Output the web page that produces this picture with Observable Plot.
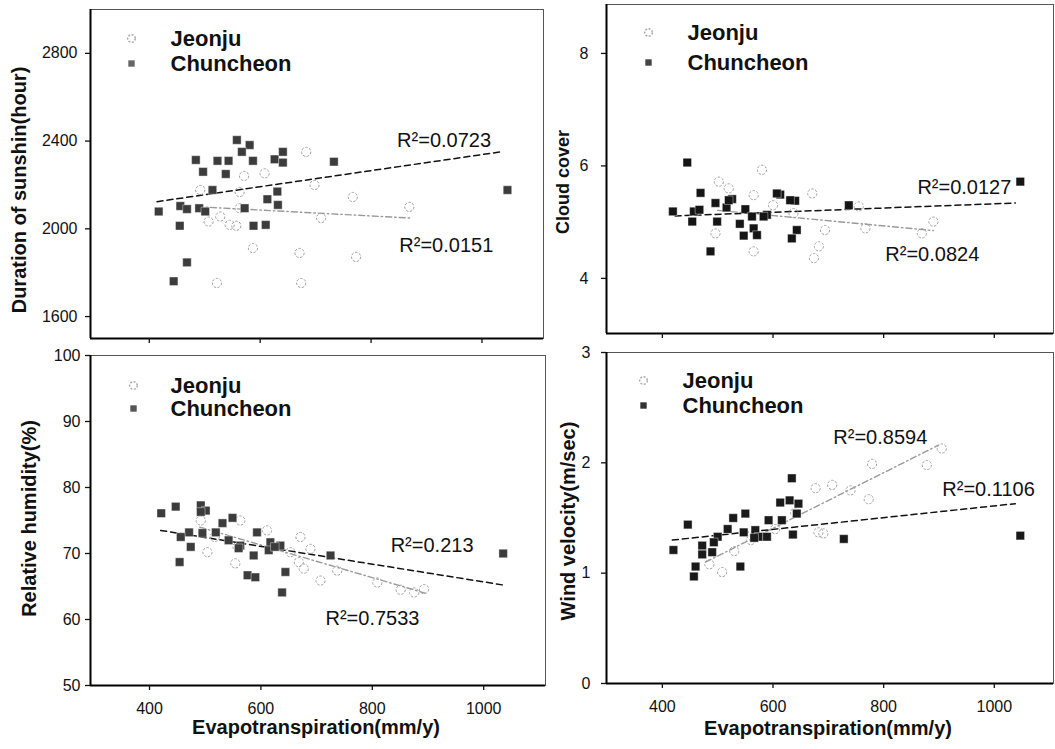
<!DOCTYPE html>
<html><head><meta charset="utf-8">
<script src="https://cdn.jsdelivr.net/npm/d3@7"></script>
<script src="https://cdn.jsdelivr.net/npm/@observablehq/plot@0.6"></script>
<style>
html,body{margin:0;padding:0;background:#fff;}
#wrap{position:relative;width:1055px;height:749px;overflow:hidden;}
#wrap svg{position:absolute;overflow:visible;background:transparent;}
</style></head><body><div id="wrap"></div>
<script>
const FONT = '"Liberation Sans", Arial, Helvetica, sans-serif';

// ---- data (x = evapotranspiration mm/y, y = climate variable) ----
const xTicks = [400, 600, 800, 1000];
const legendLabels = ["Jeonju", "Chuncheon"];

const sunshineChuncheon = [[558,2405],[581,2382],[567,2351],[484,2314],[523,2310],[543,2310],[587,2310],[626,2317],[641,2351],[641,2302],[733,2306],[497,2260],[538,2250],[514,2177],[631,2170],[613,2135],[632,2109],[417,2079],[456,2104],[468,2090],[490,2094],[501,2079],[572,2094],[455,2014],[588,2014],[610,2018],[468,1847],[444,1761],[1046,2177]];
const sunshineJeonju = [[683,2351],[571,2241],[608,2253],[563,2168],[698,2200],[767,2145],[869,2100],[710,2049],[545,2018],[557,2014],[507,2033],[528,2056],[563,2094],[587,1912],[671,1890],[522,1753],[674,1753],[773,1872],[492,2177]];
const sunshineTrendChuncheon = [[414,2124],[1034,2351]];
const sunshineTrendJeonju = [[486,2101],[872,2049]];
const sunshineTicks = [1600, 2000, 2400, 2800];
const sunshineR2 = [{x:847,y:2403,t:"R²=0.0723"},{x:851,y:1924,t:"R²=0.0151"}];

const cloudChuncheon = [[445,6.06],[419,5.19],[469,5.52],[457,5.19],[454,5.01],[467,5.22],[496,5.34],[526,5.41],[516,5.26],[499,5.01],[550,5.23],[540,4.97],[613,5.49],[640,5.38],[589,5.13],[565,4.89],[547,4.76],[571,4.77],[643,4.86],[634,4.71],[487,4.48],[737,5.30],[1047,5.72],[520,5.39],[583,5.10],[562,5.10],[607,5.51],[631,5.39]];
const cloudJeonju = [[580,5.93],[502,5.72],[565,5.48],[496,4.80],[565,4.48],[671,5.51],[674,4.36],[694,4.86],[767,4.89],[869,4.80],[890,5.01],[637,5.16],[683,4.57],[755,5.28],[520,5.60],[600,5.30]];
const cloudTrendChuncheon = [[423,5.11],[1038,5.34]];
const cloudTrendJeonju = [[500,5.21],[890,4.85]];
const cloudTicks = [4, 6, 8];
const cloudR2 = [{x:861,y:5.61,t:"R²=0.0127"},{x:803,y:4.42,t:"R²=0.0824"}];

const humidityChuncheon = [[421,76.1],[447,77.1],[492,77.3],[501,76.5],[492,76.3],[531,74.6],[549,75.4],[471,73.2],[495,73.1],[519,73.2],[456,72.5],[474,71.0],[542,72.0],[563,71.2],[593,73.2],[617,71.7],[635,71.2],[614,70.5],[587,69.7],[454,68.7],[576,66.7],[590,66.4],[644,67.2],[638,64.1],[1035,70.0],[725,69.7],[560,70.8],[625,71.0]];
const humidityJeonju = [[671,72.5],[689,70.7],[668,68.7],[677,67.7],[737,67.4],[893,64.6],[875,64.1],[707,65.9],[498,76.5],[492,75.0],[504,70.2],[554,68.5],[563,75.0],[611,73.5],[517,72.5],[558,71.0],[653,70.2],[809,65.6],[851,64.5]];
const humidityTrendChuncheon = [[420,73.5],[1037,65.2]];
const humidityTrendJeonju = [[490,74.0],[895,64.0]];
const humidityTicks = [50, 60, 70, 80, 90, 100];
const humidityR2 = [{x:833,y:71.2,t:"R²=0.213"},{x:716,y:60.2,t:"R²=0.7533"}];

const windChuncheon = [[634,1.86],[613,1.64],[630,1.66],[646,1.63],[643,1.54],[550,1.54],[528,1.50],[592,1.48],[616,1.48],[446,1.44],[518,1.40],[547,1.37],[568,1.39],[574,1.33],[589,1.33],[636,1.35],[500,1.33],[493,1.28],[472,1.25],[472,1.17],[490,1.19],[420,1.21],[460,1.06],[457,0.97],[541,1.06],[728,1.31],[1047,1.34],[566,1.32]];
const windJeonju = [[905,2.13],[878,1.98],[779,1.99],[773,1.67],[707,1.80],[677,1.77],[691,1.36],[682,1.37],[508,1.01],[485,1.08],[604,1.40],[560,1.30],[640,1.55],[530,1.20],[740,1.75]];
const windTrendChuncheon = [[418,1.30],[1038,1.63]];
const windTrendJeonju = [[478,1.10],[899,2.16]];
const windTicks = [0, 1, 2, 3];
const windR2 = [{x:709,y:2.23,t:"R²=0.8594"},{x:906,y:1.76,t:"R²=0.1106"}];

const rows = a => a.map(([x, y]) => ({x, y}));
const plain = d => String(d);

function panel(c) {
  const txt = {fill: "#111", lineAnchor: "middle"};
  const m = [
    Plot.frame({stroke: "#555", strokeWidth: 1}),
    Plot.ruleX([c.xDomain[0]], {stroke: "#000", strokeWidth: 2}),
    Plot.ruleY([c.yDomain[0]], {stroke: "#000", strokeWidth: 2}),
    Plot.axisX(xTicks, {tickSize: 5, tickPadding: c.xPad, fontSize: 16, label: null, tickFormat: c.xLabels ? plain : (() => ""), strokeWidth: 1.3}),
    Plot.axisY(c.yTicks, {tickSize: 5, tickPadding: c.yPad, fontSize: 16, label: null, tickFormat: plain, strokeWidth: 1.3}),
    Plot.line(rows(c.trendJe), {x: "x", y: "y", stroke: "#9a9a9a", strokeWidth: 1.4, strokeDasharray: "6,3,1.5,3"}),
    Plot.line(rows(c.trendCh), {x: "x", y: "y", stroke: "#111", strokeWidth: 1.5, strokeDasharray: "6,4"}),
    Plot.dot(rows(c.je), {x: "x", y: "y", r: 4.6, stroke: "#a0a0a0", strokeWidth: 1, strokeDasharray: "2.5,1.5", fill: "none"}),
    Plot.dot(rows(c.ch), {x: "x", y: "y", symbol: "square", r: 4.8, fill: c.chColor, stroke: "#fff", strokeWidth: 0.4}),
    Plot.text(c.r2, {x: "x", y: "y", text: "t", textAnchor: "start", fontSize: 20, ...txt}),
    // legend
    Plot.dot([legendLabels[0]], {frameAnchor: "top-left", dx: c.legSymDx, dy: c.legDy[0], r: 3.8, stroke: "#aaa", strokeDasharray: "2,1.5", fill: "none"}),
    Plot.dot([legendLabels[1]], {frameAnchor: "top-left", dx: c.legSymDx, dy: c.legDy[1], symbol: "square", r: 3.6, fill: c.legColor}),
    Plot.text([legendLabels[0]], {frameAnchor: "top-left", dx: c.legTxtDx, dy: c.legDy[0], text: d => d, textAnchor: "start", fontSize: 22, fontWeight: "bold", ...txt}),
    Plot.text([legendLabels[1]], {frameAnchor: "top-left", dx: c.legTxtDx, dy: c.legDy[1], text: d => d, textAnchor: "start", fontSize: 22, fontWeight: "bold", ...txt}),
    // axis titles
    Plot.text([c.yTitle], {frameAnchor: "left", rotate: -90, dx: c.yTitleDx, dy: c.yTitleDy, text: d => d, textAnchor: "middle", fontSize: c.yTitleSize || 20, fontWeight: "bold", ...txt})
  ];
  if (c.xTitle) m.push(Plot.text([c.xTitle], {frameAnchor: "bottom", dx: c.xTitleDx, dy: c.xTitleDy, text: d => d, textAnchor: "middle", fontSize: 20, fontWeight: "bold", ...txt}));
  const svg = Plot.plot({
    width: c.width, height: c.height,
    marginLeft: c.mL, marginRight: c.mR, marginTop: c.mT, marginBottom: c.mB,
    x: {domain: c.xDomain, label: null},
    y: {domain: c.yDomain, label: null},
    style: {fontFamily: FONT, background: "transparent", overflow: "visible", color: "#111"},
    marks: m
  });
  svg.style.left = c.left + "px";
  svg.style.top = c.top + "px";
  document.getElementById("wrap").appendChild(svg);
}

panel({left: 0, top: 0, width: 553, height: 348, mL: 90, mR: 10, mT: 9, mB: 10,
  xDomain: [294, 1111], yDomain: [1500, 3000], yTicks: sunshineTicks, xLabels: false, xPad: 12, yPad: 8,
  ch: sunshineChuncheon, je: sunshineJeonju, trendCh: sunshineTrendChuncheon, trendJe: sunshineTrendJeonju, r2: sunshineR2,
  chColor: "#3c3c3c", legColor: "#666", legSymDx: 41, legTxtDx: 80, legDy: [29, 54],
  yTitle: "Duration of sunshin(hour)", yTitleDx: -71, yTitleDy: 16});

panel({left: 520, top: 0, width: 535, height: 345, mL: 86, mR: 2, mT: 4, mB: 12,
  xDomain: [299, 1107], yDomain: [3.02, 8.87], yTicks: cloudTicks, xLabels: false, xPad: 12, yPad: 13,
  ch: cloudChuncheon, je: cloudJeonju, trendCh: cloudTrendChuncheon, trendJe: cloudTrendJeonju, r2: cloudR2,
  chColor: "#151515", legColor: "#444", legSymDx: 42, legTxtDx: 81, legDy: [28, 58],
  yTitle: "Cloud cover", yTitleDx: -43, yTitleDy: 13, yTitleSize: 18});

panel({left: 0, top: 340, width: 553, height: 409, mL: 90, mR: 8, mT: 15, mB: 64,
  xDomain: [294, 1111], yDomain: [50, 100], yTicks: humidityTicks, xLabels: true, xPad: 12, yPad: 5,
  ch: humidityChuncheon, je: humidityJeonju, trendCh: humidityTrendChuncheon, trendJe: humidityTrendJeonju, r2: humidityR2,
  chColor: "#3c3c3c", legColor: "#555", legSymDx: 43, legTxtDx: 80, legDy: [30, 53],
  yTitle: "Relative humidity(%)", yTitleDx: -61, yTitleDy: -2,
  xTitle: "Evapotranspiration(mm/y)", xTitleDx: -2, xTitleDy: 42});

panel({left: 520, top: 340, width: 535, height: 409, mL: 86, mR: 2, mT: 12, mB: 66,
  xDomain: [299, 1107], yDomain: [0, 3], yTicks: windTicks, xLabels: true, xPad: 12, yPad: 11,
  ch: windChuncheon, je: windJeonju, trendCh: windTrendChuncheon, trendJe: windTrendJeonju, r2: windR2,
  chColor: "#1a1a1a", legColor: "#333", legSymDx: 37, legTxtDx: 76, legDy: [28, 53],
  yTitle: "Wind velocity(m/sec)", yTitleDx: -38, yTitleDy: 3,
  xTitle: "Evapotranspiration(mm/y)", xTitleDx: -2, xTitleDy: 45});
</script>
</body></html>
